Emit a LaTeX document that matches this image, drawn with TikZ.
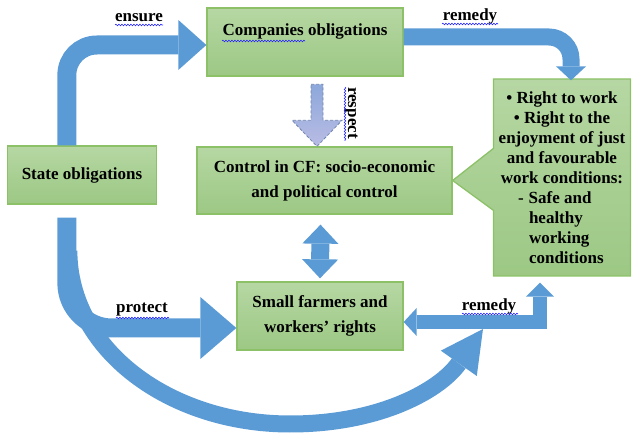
\documentclass[tikz,border=0pt]{standalone}
\usepackage{fontspec}
\setmainfont{Liberation Serif}
\usepackage{tikz}
\usetikzlibrary{shapes,shapes.callouts,arrows.meta,decorations.pathmorphing,calc,positioning}
\definecolor{boxtop}{HTML}{B6D7A3}
\definecolor{boxbot}{HTML}{9CC884}
\definecolor{boxline}{HTML}{8CC168}
\definecolor{arrblue}{HTML}{5B9BD5}
\definecolor{resptop}{HTML}{8DA8DB}
\definecolor{respbot}{HTML}{B9BCE4}
\tikzstyle{box} = [draw=boxline, line width=1.3pt, top color=boxtop, bottom color=boxbot, align=center, font=\fontsize{17}{25}\selectfont\bfseries]
\tikzstyle{lbl} = [font=\fontsize{17}{20}\selectfont\bfseries, inner sep=0pt]

\begin{document}
\begin{tikzpicture}[x=1pt,y=-1pt]
\tikzset{fat/.style={draw=arrblue, line width=#1},
squiggle/.style={draw=blue!85, line width=0.6pt, decorate, decoration={snake, amplitude=0.8pt, segment length=3pt}}}
\useasboundingbox (0,0) rectangle (632,435);

\node[box, minimum width=196, minimum height=68] (comp) at (305,42) {Companies obligations\\\mbox{}};
\node[box, minimum width=149, minimum height=58] (state) at (82,175) {State obligations};
\node[box, minimum width=255, minimum height=67] (ctrl) at (324.5,180.5) {Control in CF: socio-economic\\and political control};
\node[box, minimum width=166, minimum height=68] (farm) at (320,316) {Small farmers and\\workers’ rights};
\node[box, rectangle callout, callout absolute pointer={(ctrl.east)}, callout pointer width=62pt,
minimum width=137, minimum height=197, font=\fontsize{17}{20}\selectfont\bfseries] (rights) at (562,177.5)
{\textbullet\ Right to work\\\textbullet\ Right to the\\enjoyment of just\\and favourable\\work conditions:\\
\makebox[88pt][l]{-\hspace{5pt}Safe and}\\\makebox[88pt][l]{\hspace{11pt}healthy}\\
\makebox[88pt][l]{\hspace{11pt}working}\\\makebox[88pt][l]{\hspace{11pt}conditions}};

\draw[fat=19pt, rounded corners=30pt, -{Triangle[length=28pt,width=50pt,line width=0pt]}] ([xshift=60]state.north west) |- ([yshift=-3]comp.west);
\draw[fat=17pt, rounded corners=22pt, -{Triangle[length=14pt,width=30pt,line width=0pt]}] ([yshift=5]comp.east) -| ([xshift=9,yshift=-2]rights.north);
\draw[fat=18pt, {Triangle[length=19pt,width=36pt,line width=0pt]}-{Triangle[length=19pt,width=36pt,line width=0pt]}] ($(ctrl.south)+(-4,10)$) -- ($(farm.north)+(0,-3)$);
\draw[fat=19pt, rounded corners=45pt, -{Triangle[length=36pt,width=62pt,line width=0pt]}] ([xshift=60,yshift=-13]state.south west) |- ([yshift=-12]farm.west);
\draw[fat=14pt, line join=miter, {Triangle[length=13pt,width=28pt,line width=0pt]}-{Triangle[length=14pt,width=28pt,line width=0pt]}] ([yshift=-6]farm.east) -| ([xshift=-22,yshift=-6]rights.south);
\coordinate (arcend) at (483,329);
\draw[fat=17pt, -{Triangle[length=42pt,width=44pt,line width=0pt]}] ([xshift=62,yshift=-46]state.south west) .. controls (69,350) and (170,424) .. (290,424) .. controls (380,424) and (440,390) .. (arcend);

\coordinate (rtip) at ([xshift=-7.5]ctrl.north);
\begin{scope}[shift={(rtip)}]
\draw[draw=resptop!80!black, dash pattern=on 3pt off 2pt, line width=0.8pt, top color=resptop, bottom color=respbot]
(-6,-62) -- (6,-62) -- (6,-26) -- (25,-26) -- (0,0) -- (-25,-26) -- (-6,-26) -- cycle;
\end{scope}

\node[lbl] (ensure) at (139,18) {ensure};
\node[lbl] (remtop) at (470,16) {remedy};
\node[lbl] (protect) at (142,310) {protect};
\node[lbl] (rembot) at (489,306) {remedy};
\node[lbl, rotate=-90] (respect) at (351,113) {respect};

\foreach \xa/\xb/\yy in {115/163/25, 222/305/41, 442/498/24, 116/169/318, 462/518/314} {
\draw[squiggle] (\xa,\yy) -- (\xb,\yy); }
\draw[squiggle] (345,87) -- (345,141);

\end{tikzpicture}
\end{document}
